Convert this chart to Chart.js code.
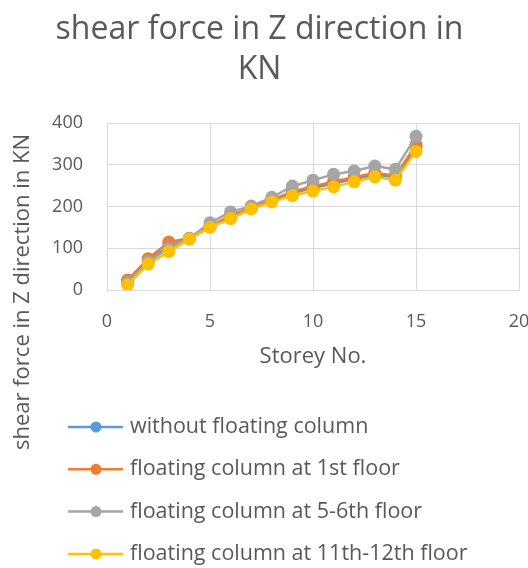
<!DOCTYPE html>
<html>
<head>
<meta charset="utf-8">
<script src="https://cdn.jsdelivr.net/npm/chart.js@4/dist/chart.umd.min.js"></script>
<style>
  html, body { margin: 0; padding: 0; background: #fff; }
  #wrap { width: 528px; height: 568px; position: relative; }
</style>
</head>
<body>
<div id="wrap"><canvas id="c" width="528" height="568"></canvas></div>
<script>
// Storey numbers and shear force (kN) for each model
const storeys = [1, 2, 3, 4, 5, 6, 7, 8, 9, 10, 11, 12, 13, 14, 15];
const withoutFloating = [20, 70, 105, 123, 152, 175, 196, 214, 232, 244, 255, 266, 276, 270, 342];
const floating1st     = [24, 75, 115, 124, 153, 178, 197, 216, 236, 248, 260, 270, 280, 274, 348];
const floating5to6    = [18, 68, 100, 124, 161, 187, 201, 222, 249, 263, 277, 285, 297, 289, 368];
const floating11to12  = [12, 62, 92, 122, 150, 171, 194, 211, 226, 237, 247, 259, 271, 263, 332];
const seriesNames = [
  'without floating column',
  'floating column at 1st floor',
  'floating column at 5-6th floor',
  'floating column at 11th-12th floor'
];
const seriesColors = ['#5B9BD5', '#ED7D31', '#A5A5A5', '#FFC000'];
const seriesValues = [withoutFloating, floating1st, floating5to6, floating11to12];

const FONT = "'Open Sans', 'Liberation Sans', sans-serif";
const TEXT = '#595959';

// later series are painted over earlier ones
const datasets = seriesValues.map((vals, i) => ({
  label: seriesNames[i],
  data: storeys.map((s, j) => ({ x: s, y: vals[j] })),
  borderColor: seriesColors[i],
  backgroundColor: seriesColors[i],
  borderWidth: 2.5,
  pointRadius: 6.5,
  pointHoverRadius: 6.5,
  pointBorderWidth: 0,
  tension: 0,
  order: seriesValues.length - 1 - i
}));

// Rotated y-axis title and a one-entry-per-row legend
const extras = {
  id: 'extras',
  afterDraw(chart) {
    const ctx = chart.ctx;
    ctx.save();
    ctx.fillStyle = TEXT;
    ctx.font = '22px ' + FONT;
    ctx.textAlign = 'center';
    ctx.textBaseline = 'middle';
    ctx.translate(23, 292);
    ctx.rotate(-Math.PI / 2);
    ctx.fillText('shear force in Z direction in KN', 0, 0);
    ctx.restore();

    ctx.save();
    seriesNames.forEach((name, i) => {
      const y = 427 + i * 42.3;
      ctx.strokeStyle = seriesColors[i];
      ctx.lineWidth = 2.5;
      ctx.beginPath();
      ctx.moveTo(68, y);
      ctx.lineTo(123, y);
      ctx.stroke();
      ctx.fillStyle = seriesColors[i];
      ctx.beginPath();
      ctx.arc(96, y, 5.5, 0, Math.PI * 2);
      ctx.fill();
      ctx.fillStyle = TEXT;
      ctx.font = '21.5px ' + FONT;
      ctx.textAlign = 'left';
      ctx.textBaseline = 'middle';
      ctx.fillText(name, 130, y);
    });
    ctx.restore();
  }
};

new Chart(document.getElementById('c'), {
  type: 'line',
  data: { datasets },
  plugins: [extras],
  options: {
    responsive: false,
    animation: false,
    events: [],
    layout: { padding: { left: 0, right: 9, top: 0, bottom: 198 } },
    plugins: {
      legend: { display: false },
      tooltip: { enabled: false },
      title: {
        display: true,
        text: ['shear force in Z direction in', 'KN'],
        color: TEXT,
        font: { family: FONT, size: 32, weight: 'normal', lineHeight: 1.25 },
        padding: { top: 10, bottom: 33 }
      }
    },
    scales: {
      x: {
        type: 'linear',
        min: 0, max: 20,
        ticks: { stepSize: 5, color: TEXT, font: { family: FONT, size: 18 }, padding: 21 },
        grid: { color: '#D9D9D9', drawTicks: false },
        border: { color: '#D9D9D9' },
        title: {
          display: true, text: 'Storey No.', color: TEXT,
          font: { family: FONT, size: 22 }, padding: { top: 4, bottom: 0 }
        },
        afterFit(scale) { scale.height = 80; scale.paddingRight = 0; }
      },
      y: {
        min: 0, max: 400,
        ticks: { stepSize: 100, color: TEXT, font: { family: FONT, size: 18 }, padding: 24 },
        grid: { color: '#D9D9D9', drawTicks: false },
        border: { color: '#D9D9D9' },
        afterFit(scale) { scale.width = 107; }
      }
    }
  }
});
</script>
</body>
</html>
